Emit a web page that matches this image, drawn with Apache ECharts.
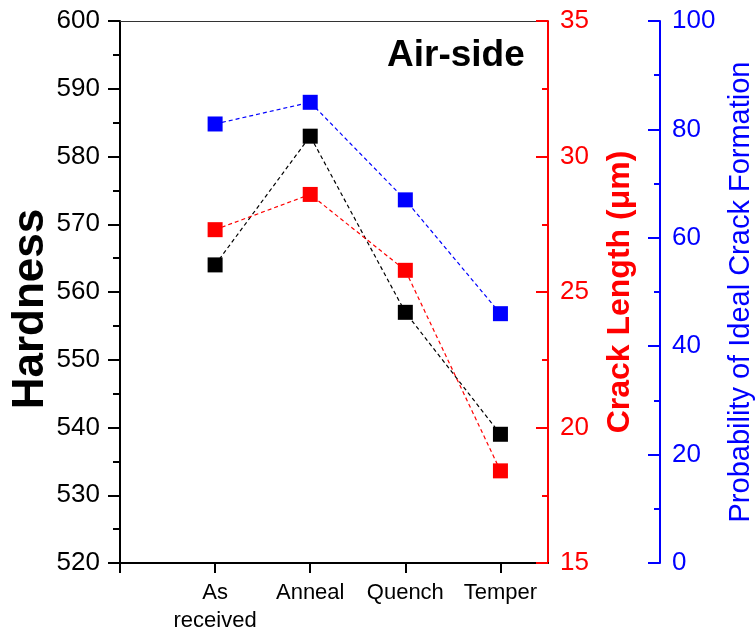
<!DOCTYPE html>
<html>
<head>
<meta charset="utf-8">
<script src="https://cdn.jsdelivr.net/npm/echarts@6/dist/echarts.min.js"></script>
<style>
html,body{margin:0;padding:0;background:#fff;}
#chart{width:755px;height:628px;}
</style>
</head>
<body>
<div id="chart"></div>
<script>
const categories = ['As\nreceived', 'Anneal', 'Quench', 'Temper'];
const categoryPositions = [1, 2, 3, 4];
const hardness = [564, 583, 557, 539];
const crackLength = [27.3, 28.6, 25.8, 18.4];
const probability = [81, 85, 67, 46];
const hardnessTicks = [520, 600, 10];
const crackTicks = [15, 35, 5];
const probTicks = [0, 100, 20];

const FONT = '"Liberation Sans", Arial, sans-serif';
const chart = echarts.init(document.getElementById('chart'), null, {renderer: 'canvas'});

function pairs(vals) { return vals.map((v, i) => [categoryPositions[i], v]); }

function yAxisDef(ticks, color, opts) {
  return Object.assign({
    type: 'value',
    min: ticks[0], max: ticks[1], interval: ticks[2],
    nameLocation: 'middle',
    nameRotate: 90,
    nameMoveOverlap: false,
    axisLine: {show: true, onZero: false, lineStyle: {color: color, width: 2}},
    axisTick: {show: true, length: 12, lineStyle: {color: color, width: 2}},
    minorTick: {show: true, splitNumber: 2, length: 6, lineStyle: {color: color, width: 2}},
    splitLine: {show: false},
    minorSplitLine: {show: false},
    axisLabel: {color: color, fontSize: 26, fontFamily: FONT, margin: 12}
  }, opts);
}

const option = {
  animation: false,
  backgroundColor: '#fff',
  grid: {left: 120, right: 207, top: 21, bottom: 65, containLabel: false, outerBoundsMode: 'none'},
  xAxis: [{
    type: 'value', min: 0, max: 4.5, interval: 1,
    position: 'bottom',
    axisLine: {show: true, onZero: false, lineStyle: {color: '#000', width: 2}},
    axisTick: {show: true, inside: false, length: 10, customValues: [0, 1, 2, 3, 4], lineStyle: {color: '#000', width: 2}},
    splitLine: {show: false},
    axisLabel: {
      customValues: categoryPositions,
      color: '#000', fontSize: 22, fontFamily: FONT, lineHeight: 28, margin: 16,
      formatter: function (v) { const i = categoryPositions.indexOf(v); return i >= 0 ? categories[i] : ''; }
    }
  }, {
    type: 'value', min: 0, max: 4.5, position: 'top',
    axisLine: {show: true, onZero: false, lineStyle: {color: '#333', width: 1}},
    axisTick: {show: false}, axisLabel: {show: false}, splitLine: {show: false}
  }],
  yAxis: [
    yAxisDef(hardnessTicks, '#000', {
      position: 'left',
      name: 'Hardness', nameGap: 67,
      nameTextStyle: {color: '#000', fontSize: 44, fontWeight: 'bold', fontFamily: FONT, padding: [0, 34, 0, 0]},
      axisTick: {show: true, inside: false, length: 12, lineStyle: {color: '#000', width: 2}},
      minorTick: {show: true, splitNumber: 2, length: 7, lineStyle: {color: '#000', width: 2}},
      axisLabel: {color: '#000', fontSize: 26, fontFamily: FONT, margin: 20}
    }),
    yAxisDef(crackTicks, '#ff0000', {
      position: 'right', offset: 0,
      name: 'Crack Length (\u03bcm)', nameGap: 56,
      nameTextStyle: {color: '#ff0000', fontSize: 32, fontWeight: 'bold', fontFamily: FONT},
      axisTick: {show: true, inside: true, length: 12, lineStyle: {color: '#ff0000', width: 2}},
      minorTick: {show: true, splitNumber: 2, inside: true, length: 6, lineStyle: {color: '#ff0000', width: 2}}
    }),
    yAxisDef(probTicks, '#0000ff', {
      position: 'right', offset: 112,
      name: 'Probability of Ideal Crack Formation', nameGap: 66,
      nameTextStyle: {color: '#0000ff', fontSize: 29, fontFamily: FONT},
      axisTick: {show: true, inside: true, length: 12, lineStyle: {color: '#0000ff', width: 2}},
      minorTick: {show: true, splitNumber: 2, inside: true, length: 6, lineStyle: {color: '#0000ff', width: 2}}
    })
  ],
  graphic: [{
    type: 'text', left: 387, top: 37,
    style: {text: 'Air-side', fontSize: 37, fontWeight: 'bold', fontFamily: FONT, fill: '#000'}
  }],
  series: [
    {
      type: 'line', name: 'Hardness', xAxisIndex: 0, yAxisIndex: 0,
      data: pairs(hardness),
      symbol: 'rect', symbolSize: 15,
      itemStyle: {color: '#000'},
      lineStyle: {color: '#000', width: 1.2, type: [4, 3]}
    },
    {
      type: 'line', name: 'Crack Length', xAxisIndex: 0, yAxisIndex: 1,
      data: pairs(crackLength),
      symbol: 'rect', symbolSize: 15,
      itemStyle: {color: '#ff0000'},
      lineStyle: {color: '#ff0000', width: 1.2, type: [4, 3]}
    },
    {
      type: 'line', name: 'Probability', xAxisIndex: 0, yAxisIndex: 2,
      data: pairs(probability),
      symbol: 'rect', symbolSize: 15,
      itemStyle: {color: '#0000ff'},
      lineStyle: {color: '#0000ff', width: 1.2, type: [4, 3]}
    }
  ]
};
chart.setOption(option);
</script>
</body>
</html>
